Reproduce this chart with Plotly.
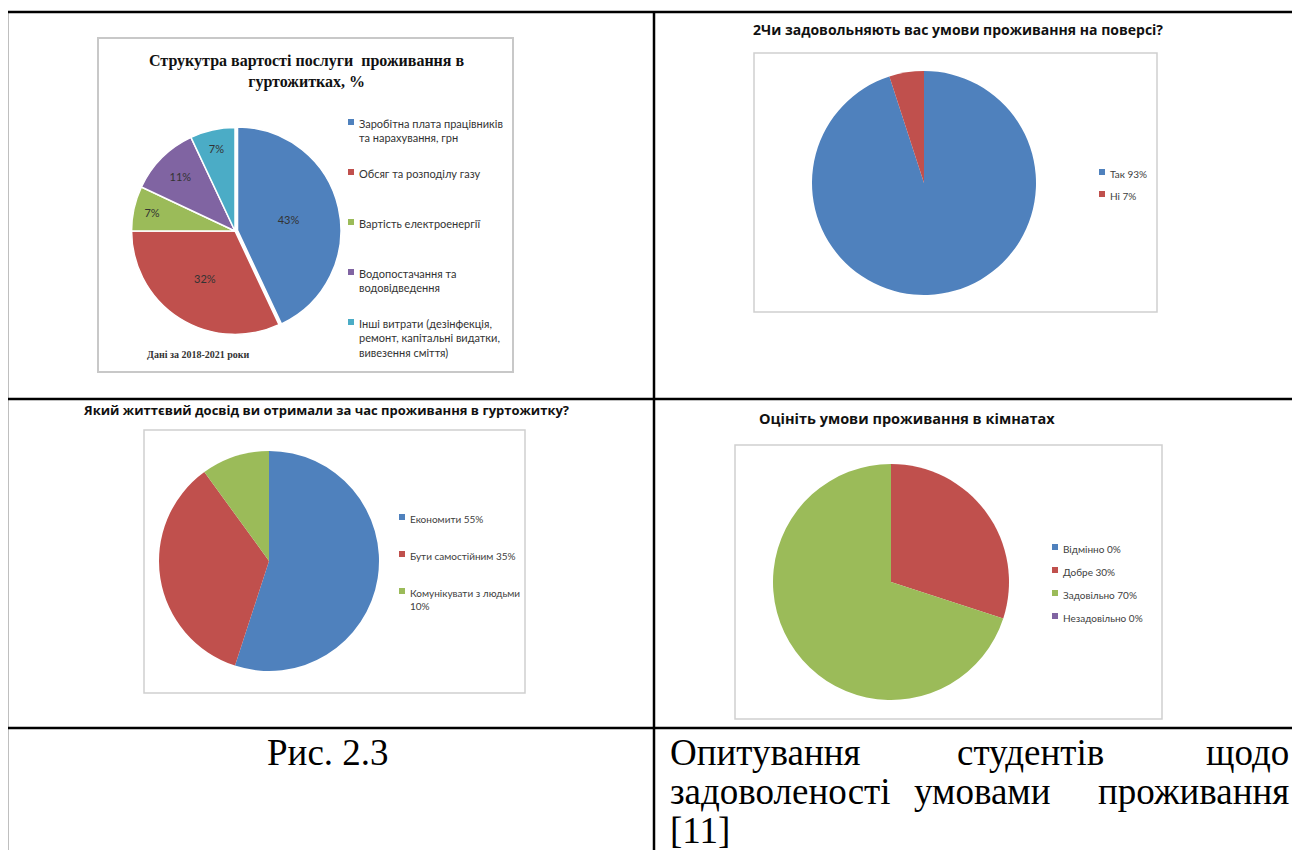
import plotly.graph_objects as go

# the page body has an 8px margin, so figure pixel = page pixel - OFF
OFF = 8
W, H = 1300 - OFF, 850 - OFF

# ---------------- data ----------------
c1_title = "Струкутра вартості послуги  проживання в<br>гуртожитках, %"
c1_labels = ["Заробітна плата працівників<br>та нарахування, грн",
             "Обсяг та розподілу газу",
             "Вартість електроенергії",
             "Водопостачання та<br>водовідведення",
             "Інші витрати (дезінфекція,<br>ремонт, капітальні видатки,<br>вивезення сміття)"]
c1_values = [43, 32, 7, 11, 7]
c1_text = ["43%", "32%", "7%", "11%", "7%"]
c1_note = "Дані за 2018-2021 роки"

c2_title = "2Чи задовольняють вас умови проживання на поверсі?"
c2_labels = ["Так 93%", "Ні 7%"]
c2_values = [95, 5]

c3_title = "Який життєвий досвід ви отримали за час проживання в гуртожитку?"
c3_labels = ["Економити 55%", "Бути самостійним 35%", "Комунікувати з людьми<br>10%"]
c3_values = [55, 35, 10]

c4_title = "Оцініть умови проживання в кімнатах"
c4_labels = ["Відмінно 0%", "Добре 30%", "Задовільно 70%", "Незадовільно 0%"]
c4_values = [0, 30, 70, 0]

caption_left = "Рис. 2.3"
caption_right = [["Опитування", "студентів", "щодо"],
                 ["задоволеності", "умовами", "проживання"],
                 ["[11]"]]

# ---------------- style ----------------
PAL = ["#4F81BD", "#C0504D", "#9BBB59", "#8064A2", "#4BACC6"]
TITLE_FONT = dict(family="'Open Sans', 'Noto Sans', sans-serif", size=14, color="#111111")


def px(x):
    return (x - OFF) / W


def py(y):
    return 1 - (y - OFF) / H


def dom(cx, cy, r):
    return dict(x=[px(cx - r), px(cx + r)], y=[py(cy + r), py(cy - r)])


fig = go.Figure()

# chart 1
fig.add_trace(go.Pie(
    values=c1_values, labels=c1_labels, text=c1_text, textinfo="text",
    textposition="inside", insidetextorientation="horizontal",
    textfont=dict(family="Lato, sans-serif", size=11, color="#333333"),
    marker=dict(colors=PAL, line=dict(color="white", width=1.5)),
    pull=[0.025, 0, 0, 0, 0], sort=False, direction="clockwise", rotation=0,
    domain=dom(235, 231, 106), showlegend=False, hoverinfo="label+value"))

# chart 2
fig.add_trace(go.Pie(
    values=c2_values, labels=c2_labels, textinfo="none",
    marker=dict(colors=PAL[:2], line=dict(width=0)),
    sort=False, direction="clockwise", rotation=0,
    domain=dom(924, 183, 112), showlegend=False))

# chart 3
fig.add_trace(go.Pie(
    values=c3_values, labels=c3_labels, textinfo="none",
    marker=dict(colors=PAL[:3], line=dict(width=0)),
    sort=False, direction="clockwise", rotation=0,
    domain=dom(269, 561, 110), showlegend=False))

# chart 4
fig.add_trace(go.Pie(
    values=c4_values, labels=c4_labels, textinfo="none",
    marker=dict(colors=PAL[:4], line=dict(width=0)),
    sort=False, direction="clockwise", rotation=0,
    domain=dom(891, 582, 118), showlegend=False))

shapes = []
annots = []


def frame(x0, y0, x1, y1, color="#d0d0d0", width=1.5):
    shapes.append(dict(type="rect", xref="paper", yref="paper",
                       x0=px(x0), x1=px(x1), y0=py(y1), y1=py(y0),
                       line=dict(color=color, width=width), fillcolor="rgba(0,0,0,0)"))


def legend(labels, colors, x, ys, font, size=6):
    for lab, col, y in zip(labels, colors, ys):
        shapes.append(dict(type="rect", xref="paper", yref="paper",
                           x0=px(x), x1=px(x + size), y0=py(y + size / 2), y1=py(y - size / 2),
                           line=dict(width=0), fillcolor=col))
        annots.append(dict(x=px(x + size + 3), y=py(y - font["size"] * 0.65), xref="paper", yref="paper",
                           text=lab, showarrow=False, xanchor="left", yanchor="top",
                           align="left", font=font))


# frames around chart pictures
frame(98, 38, 513, 372, color="#c8c8c8", width=2)
frame(754, 53, 1157, 312)
frame(144, 430, 525, 693)
frame(735, 445, 1162, 719)

# chart 1 title & note
annots.append(dict(x=px(306), y=py(71), xref="paper", yref="paper", text="<b>" + c1_title + "</b>",
                   showarrow=False, xanchor="center", yanchor="middle", align="center",
                   font=dict(family="'Liberation Serif', 'DejaVu Serif', serif", size=16, color="#111111")))
annots.append(dict(x=px(145), y=py(355), xref="paper", yref="paper", text="<b>" + c1_note + "</b>",
                   showarrow=False, xanchor="left", yanchor="middle",
                   font=dict(family="'Liberation Serif', serif", size=10, color="#333333")))
legend(c1_labels, PAL, 348, [122, 172, 222, 272, 322],
       font=dict(family="Lato, 'Open Sans', sans-serif", size=11, color="#333333"))

# chart 2
annots.append(dict(x=px(958), y=py(30), xref="paper", yref="paper", text="<b>" + c2_title + "</b>",
                   showarrow=False, xanchor="center", yanchor="middle", font=TITLE_FONT))
legend(c2_labels, PAL, 1099, [172, 194],
       font=dict(family="Lato, sans-serif", size=10, color="#404040"))

# chart 3
annots.append(dict(x=px(326), y=py(410), xref="paper", yref="paper", text="<b>" + c3_title + "</b>",
                   showarrow=False, xanchor="center", yanchor="middle",
                   font=dict(family="'Open Sans', 'Noto Sans', sans-serif", size=13, color="#111111")))
legend(c3_labels, PAL, 399, [517, 554, 591],
       font=dict(family="Lato, sans-serif", size=10, color="#404040"))

# chart 4
annots.append(dict(x=px(757), y=py(418), xref="paper", yref="paper", text="<b>" + c4_title + "</b>",
                   showarrow=False, xanchor="left", yanchor="middle",
                   font=dict(family="'Open Sans', 'Noto Sans', sans-serif", size=14.5, color="#111111")))
legend(c4_labels, PAL, 1052, [547, 570, 593, 616],
       font=dict(family="Lato, sans-serif", size=10, color="#404040"))

# table lines
LW = 2.5
for (x0, y0, x1, y1) in [(7, 12, 1300, 12), (7, 399, 1300, 399), (7, 728, 1300, 728),
                         (7, 12, 7, 850), (654, 12, 654, 850)]:
    shapes.append(dict(type="line", xref="paper", yref="paper",
                       x0=px(x0), x1=px(x1), y0=py(y0), y1=py(y1),
                       line=dict(color="black", width=LW)))

# captions (justified text in the right cell)
CAP_FONT = dict(family="'Liberation Serif', 'Times New Roman', serif", size=37, color="black")
annots.append(dict(x=px(328), y=py(752), xref="paper", yref="paper", text=caption_left,
                   showarrow=False, xanchor="center", yanchor="middle", font=CAP_FONT))
line_ys = [752, 791, 830]
mid_x = [1030, 982]
for i, (words, yy) in enumerate(zip(caption_right, line_ys)):
    if len(words) == 3:
        xs = [(668, "left"), (mid_x[i], "center"), (1291, "right")]
        for w, (xx, anc) in zip(words, xs):
            annots.append(dict(x=px(xx), y=py(yy), xref="paper", yref="paper", text=w,
                               showarrow=False, xanchor=anc, yanchor="middle", font=CAP_FONT))
    else:
        annots.append(dict(x=px(668), y=py(yy), xref="paper", yref="paper", text=words[0],
                           showarrow=False, xanchor="left", yanchor="middle", font=CAP_FONT))

fig.update_layout(width=W, height=H, margin=dict(l=0, r=0, t=0, b=0),
                  paper_bgcolor="white", plot_bgcolor="white",
                  shapes=shapes, annotations=annots, showlegend=False)

fig.write_html("out.html")
